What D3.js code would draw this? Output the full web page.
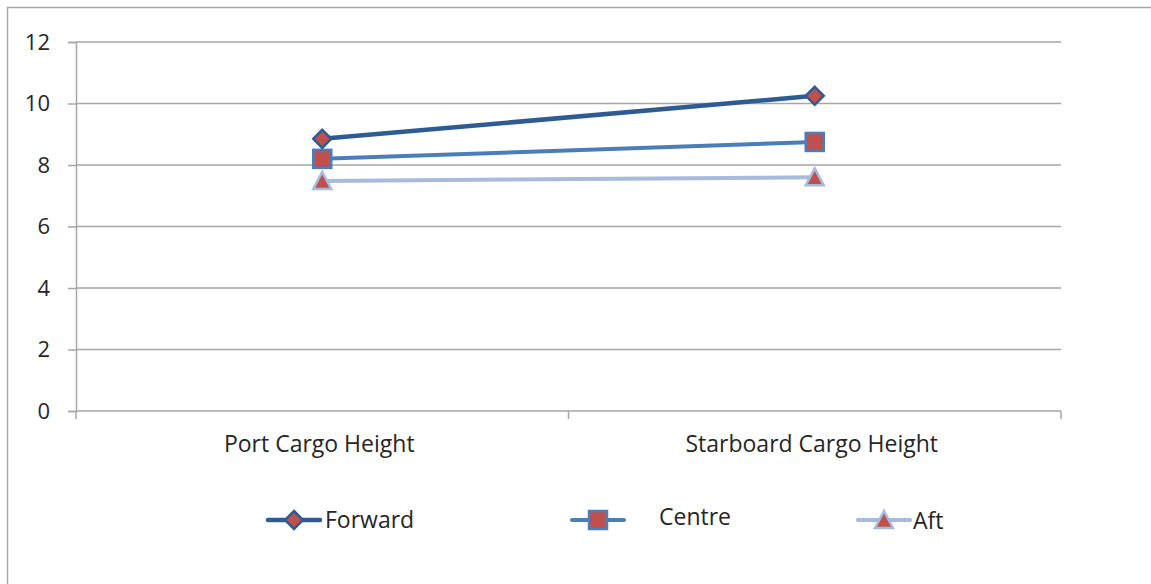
<!DOCTYPE html>
<html>
<head>
<meta charset="utf-8">
<script src="https://cdn.jsdelivr.net/npm/d3@7"></script>
<style>
  html, body { margin: 0; padding: 0; background: #fff; }
  svg text { font-family: "Open Sans", Lato, sans-serif; fill: #262626; }
</style>
</head>
<body>
<svg id="chart" width="1151" height="584"></svg>
<script>
// Chart data
const categories = ["Port Cargo Height", "Starboard Cargo Height"];
const seriesNames = ["Forward", "Centre", "Aft"];
const forwardValues = [8.85, 10.25];
const centreValues = [8.2, 8.75];
const aftValues = [7.48, 7.6];
const yTicks = [0, 2, 4, 6, 8, 10, 12];

const series = [
  { name: seriesNames[0], values: forwardValues, line: "#2f5b93", stroke: "#2f5b93", shape: "diamond", width: 4.5 },
  { name: seriesNames[1], values: centreValues, line: "#4a7ebb", stroke: "#4a7ebb", shape: "square", width: 4 },
  { name: seriesNames[2], values: aftValues, line: "#a7bbdc", stroke: "#a7bbdc", shape: "triangle", width: 4 }
];
const markerFill = "#c0504d";

const svg = d3.select("#chart");
const plot = { left: 76, right: 1061, top: 42, bottom: 411 };

// outer frame
svg.append("path")
  .attr("d", "M7.5,600 L7.5,7.5 L1160,7.5")
  .attr("fill", "none").attr("stroke", "#a6a6a6").attr("stroke-width", 1.5);

const x = d3.scaleBand().domain(categories).range([plot.left, plot.right]).padding(0);
const y = d3.scaleLinear().domain([0, 12]).range([plot.bottom, plot.top]);

// horizontal gridlines
svg.append("g").selectAll("line").data(yTicks.filter(d => d > 0)).join("line")
  .attr("x1", plot.left).attr("x2", plot.right)
  .attr("y1", d => y(d)).attr("y2", d => y(d))
  .attr("stroke", "#a6a6a6").attr("stroke-width", 1.5);

// y axis
const yAxis = svg.append("g").attr("transform", `translate(${plot.left},0)`)
  .call(d3.axisLeft(y).tickValues(yTicks).tickSize(8).tickPadding(18));
yAxis.select(".domain").attr("stroke", "#a6a6a6").attr("stroke-width", 1.5);
yAxis.selectAll(".tick line").attr("stroke", "#a6a6a6").attr("stroke-width", 1.5);
yAxis.selectAll(".tick text").attr("font-size", 22).attr("fill", "#262626")
  .style("font-family", "'Open Sans', Lato, sans-serif");

// x axis line and category dividers
svg.append("line").attr("x1", plot.left).attr("x2", plot.right)
  .attr("y1", plot.bottom).attr("y2", plot.bottom)
  .attr("stroke", "#a6a6a6").attr("stroke-width", 1.5);
const dividers = [plot.left, ...categories.map(c => x(c) + x.bandwidth())];
svg.append("g").selectAll("line").data(dividers).join("line")
  .attr("x1", d => d).attr("x2", d => d)
  .attr("y1", plot.bottom).attr("y2", plot.bottom + 8)
  .attr("stroke", "#a6a6a6").attr("stroke-width", 1.5);

svg.append("g").selectAll("text").data(categories).join("text")
  .attr("x", d => x(d) + x.bandwidth() / 2 - 3)
  .attr("y", 452)
  .attr("text-anchor", "middle")
  .attr("font-size", 23)
  .text(d => d);

// marker drawing
function drawMarker(g, s, cx, cy) {
  if (s.shape === "diamond") {
    const r = 9;
    g.append("path").attr("d", `M${cx},${cy - r} L${cx + r},${cy} L${cx},${cy + r} L${cx - r},${cy} Z`)
      .attr("fill", markerFill).attr("stroke", s.stroke).attr("stroke-width", 2.5);
  } else if (s.shape === "square") {
    const h = 9;
    g.append("rect").attr("x", cx - h).attr("y", cy - h).attr("width", 2 * h).attr("height", 2 * h)
      .attr("fill", markerFill).attr("stroke", s.stroke).attr("stroke-width", 2.5);
  } else {
    const h = 9;
    g.append("path").attr("d", `M${cx},${cy - h} L${cx + h},${cy + h - 1} L${cx - h},${cy + h - 1} Z`)
      .attr("fill", markerFill).attr("stroke", s.stroke).attr("stroke-width", 2.5);
  }
}

// series lines + markers (draw Aft first so Forward sits on top)
const line = d3.line()
  .x((d, i) => x(categories[i]) + x.bandwidth() / 2)
  .y(d => y(d));

[...series].reverse().forEach(s => {
  const g = svg.append("g");
  g.append("path").attr("d", line(s.values))
    .attr("fill", "none").attr("stroke", s.line).attr("stroke-width", s.width);
  s.values.forEach((v, i) => drawMarker(g, s, x(categories[i]) + x.bandwidth() / 2, y(v)));
});

// legend
const legendItems = [
  { x: 268, textX: 325, textY: 528 },
  { x: 572, textX: 659, textY: 525 },
  { x: 858, textX: 913, textY: 529 }
];
series.forEach((s, i) => {
  const li = legendItems[i];
  const g = svg.append("g");
  const ly = 520;
  g.append("line").attr("x1", li.x).attr("x2", li.x + 52).attr("y1", ly).attr("y2", ly)
    .attr("stroke", s.line).attr("stroke-width", s.width).attr("stroke-linecap", "round");
  drawMarker(g, s, li.x + 26, ly);
  g.append("text").attr("x", li.textX).attr("y", li.textY).attr("font-size", 23).text(s.name);
});
</script>
</body>
</html>
